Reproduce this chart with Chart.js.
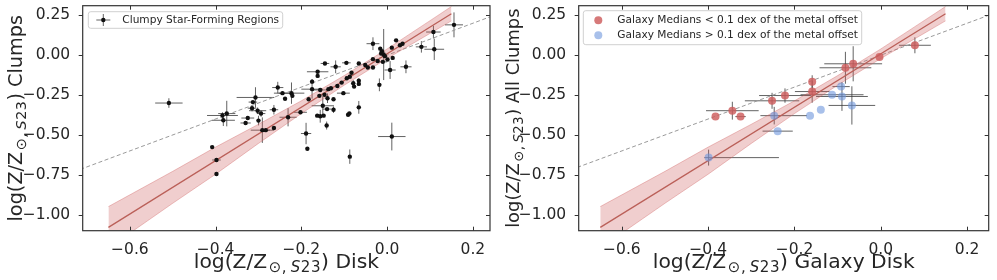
<!DOCTYPE html>
<html>
<head>
<meta charset="utf-8">
<script src="https://cdn.jsdelivr.net/npm/chart.js@4.4.1/dist/chart.umd.min.js"></script>
<style>
  html, body { margin: 0; padding: 0; background: #fff; }
  #wrap { position: relative; width: 997px; height: 280px; overflow: hidden; }
  canvas { position: absolute; top: 0; }
</style>
</head>
<body>
<div id="wrap">
  <canvas id="clumpChart" width="498" height="280" style="left:0"></canvas>
  <canvas id="galaxyChart" width="499" height="280" style="left:498px"></canvas>
</div>
<script>
// ---------- values ----------

// left panel: individual clumpy star-forming regions
const clumpX = [-0.509, -0.408, -0.398, -0.398, -0.384, -0.374, -0.382, -0.307, -0.313, -0.315,
  -0.302, -0.294, -0.325, -0.330, -0.300, -0.291, -0.283, -0.264, -0.264, -0.255,
  -0.244, -0.238, -0.223, -0.221, -0.231, -0.202, -0.145, -0.120, -0.095, -0.066,
  -0.162, -0.162, -0.175, -0.175, -0.156, -0.146, -0.137, -0.131, -0.116, -0.106,
  -0.094, -0.083, -0.087, -0.079, -0.077, -0.066, -0.066, -0.102, -0.183, -0.158,
  -0.139, -0.125, -0.150, -0.140, -0.125, -0.163, -0.156, -0.148, -0.141, -0.091,
  -0.088, -0.066, -0.189, -0.186, -0.051, -0.045, -0.033, -0.018, -0.033, -0.016,
  -0.012, -0.014, -0.008, -0.005, 0.001, -0.010, 0.013, 0.007, -0.033, -0.022,
  0.011, 0.021, 0.030, 0.036, 0.044, 0.080, 0.108, 0.110, 0.156, -0.087,
  0.011];
const clumpY = [-0.300, -0.576, -0.657, -0.745, -0.378, -0.366, -0.408, -0.265, -0.294, -0.332,
  -0.348, -0.366, -0.394, -0.425, -0.410, -0.470, -0.470, -0.342, -0.456, -0.203,
  -0.238, -0.273, -0.238, -0.255, -0.389, -0.358, -0.052, -0.073, -0.048, -0.052,
  -0.104, -0.130, -0.166, -0.213, -0.218, -0.248, -0.213, -0.207, -0.193, -0.172,
  -0.145, -0.110, -0.135, -0.176, -0.197, -0.160, -0.180, -0.238, -0.276, -0.255,
  -0.270, -0.276, -0.317, -0.338, -0.342, -0.379, -0.383, -0.379, -0.441, -0.373,
  -0.366, -0.327, -0.491, -0.586, -0.062, -0.077, -0.077, -0.186, 0.072, 0.041,
  0.025, 0.010, 0.004, -0.006, -0.027, -0.042, -0.017, -0.093, -0.025, -0.037,
  0.047, 0.093, 0.062, 0.072, -0.073, 0.052, 0.145, 0.037, 0.190, -0.636,
  -0.510];
const clumpXErr = [0.032, 0, 0.010, 0, 0.036, 0.020, 0.027, 0.044, 0.010, 0.010,
  0.020, 0.010, 0.015, 0.012, 0, 0.027, 0.010, 0.010, 0, 0.013,
  0.020, 0, 0.030, 0, 0.020, 0.015, 0.010, 0.012, 0.010, 0,
  0.025, 0, 0, 0.025, 0.020, 0, 0, 0, 0, 0,
  0, 0, 0, 0, 0, 0, 0, 0.015, 0, 0,
  0, 0, 0.026, 0.010, 0, 0.005, 0, 0, 0, 0,
  0, 0, 0.012, 0, 0, 0, 0, 0, 0.015, 0,
  0, 0, 0, 0, 0, 0.010, 0, 0.013, 0, 0,
  0, 0, 0, 0, 0.013, 0.013, 0.017, 0.023, 0.021, 0,
  0.032];
const clumpYErr = [0.030, 0, 0, 0, 0.020, 0.080, 0.036, 0.064, 0, 0.020,
  0.020, 0.020, 0, 0.010, 0.030, 0.080, 0, 0.030, 0, 0.036,
  0.010, 0, 0.067, 0, 0.057, 0, 0, 0.040, 0, 0,
  0, 0, 0.015, 0.060, 0, 0, 0, 0, 0, 0,
  0, 0, 0, 0.020, 0, 0.015, 0, 0, 0, 0,
  0.030, 0, 0.060, 0, 0.020, 0, 0.040, 0, 0.025, 0,
  0, 0.040, 0.067, 0, 0, 0, 0, 0.040, 0.040, 0,
  0, 0, 0.160, 0, 0, 0, 0, 0.056, 0, 0,
  0, 0, 0, 0, 0.040, 0.036, 0.040, 0.067, 0.078, 0.045,
  0.087];

// right panel: galaxy medians, split by metal offset
const closeX = [-0.383, -0.344, -0.325, -0.252, -0.222, -0.159, -0.159, -0.082, -0.064, -0.003, 0.079];
const closeY = [-0.385, -0.348, -0.385, -0.286, -0.253, -0.166, -0.228, -0.079, -0.054, -0.011, 0.062];
const closeXErr = [0, 0.061, 0.012, 0.063, 0.060, 0, 0.040, 0.060, 0.067, 0, 0.037];
const closeYErr = [0, 0.056, 0, 0.050, 0.045, 0.040, 0.070, 0.100, 0.110, 0, 0.050];

const farX = [-0.399, -0.239, -0.247, -0.164, -0.139, -0.113, -0.092, -0.090, -0.067];
const farY = [-0.642, -0.476, -0.379, -0.379, -0.342, -0.248, -0.197, -0.259, -0.315];
const farXErr = [[0.010, 0.163], 0.035, [0.032, 0.076], 0, 0, 0.073, 0.020, 0.060, 0.054];
const farYErr = [0.050, 0, 0.055, 0, 0, 0, 0, 0.090, 0.120];

// fitted relation and its band (same in both panels)
const fitX = [-0.65, 0.15];
const fitY = [-1.079, 0.260];
const bandX = [-0.65, -0.5, -0.4, -0.3, -0.2, -0.1, 0.0, 0.1, 0.15];
const bandHi = [-0.949, -0.728, -0.576, -0.433, -0.286, -0.128, 0.039, 0.216, 0.305];
const bandLo = [-1.209, -0.928, -0.746, -0.553, -0.366, -0.188, -0.021, 0.136, 0.215];
const unityX = [-1.0, 1.0];

const xTickVals = [-0.6, -0.4, -0.2, 0.0, 0.2];
const yTickVals = [-1.0, -0.75, -0.5, -0.25, 0.0, 0.25];

// ---------- drawing ----------
const FONT = "'DejaVu Sans', sans-serif";
const INK = '#262626';

const pts = (xs, ys) => xs.map((x, i) => ({ x, y: ys[i] }));
const minus = (v, d) => v.toFixed(d).replace('-', '\u2212');
const spread = e => Array.isArray(e) ? e : [e, e];

// matplotlib-style error bars, positioned through the chart's scales
const errorBars = {
  id: 'errorBars',
  beforeDatasetsDraw(chart) {
    const { ctx, chartArea: a, scales: { x, y } } = chart;
    ctx.save();
    ctx.beginPath();
    ctx.rect(a.left, a.top, a.right - a.left, a.bottom - a.top);
    ctx.clip();
    chart.data.datasets.forEach(ds => {
      if (!ds.xErr) return;
      ctx.strokeStyle = ds.errColor;
      ctx.lineWidth = 1;
      ds.data.forEach((p, i) => {
        const [xl, xh] = spread(ds.xErr[i]);
        const [yl, yh] = spread(ds.yErr[i]);
        const px = x.getPixelForValue(p.x), py = y.getPixelForValue(p.y);
        ctx.beginPath();
        if (xl || xh) {
          ctx.moveTo(x.getPixelForValue(p.x - xl), py);
          ctx.lineTo(x.getPixelForValue(p.x + xh), py);
        }
        if (yl || yh) {
          ctx.moveTo(px, y.getPixelForValue(p.y - yl));
          ctx.lineTo(px, y.getPixelForValue(p.y + yh));
        }
        ctx.stroke();
      });
    });
    ctx.restore();
  }
};

// four spines with ticks
const frame = {
  id: 'frame',
  afterDatasetsDraw(chart) {
    const { ctx, chartArea: a, scales: { x, y } } = chart;
    ctx.save();
    ctx.strokeStyle = '#333';
    ctx.lineWidth = 1.2;
    ctx.strokeRect(a.left, a.top, a.right - a.left, a.bottom - a.top);
    ctx.lineWidth = 1;
    ctx.beginPath();
    x.ticks.forEach(t => {
      const px = Math.round(x.getPixelForValue(t.value)) + 0.5;
      ctx.moveTo(px, a.bottom); ctx.lineTo(px, a.bottom - 4);
      ctx.moveTo(px, a.top); ctx.lineTo(px, a.top + 4);
    });
    y.ticks.forEach(t => {
      const py = Math.round(y.getPixelForValue(t.value)) + 0.5;
      ctx.moveTo(a.left, py); ctx.lineTo(a.left - 4, py);
      ctx.moveTo(a.right, py); ctx.lineTo(a.right - 4, py);
    });
    ctx.stroke();
    ctx.restore();
  }
};

// boxed legend in the upper left corner
const boxLegend = {
  id: 'boxLegend',
  afterDraw(chart, args, opts) {
    const { ctx, chartArea: a } = chart;
    const items = chart.data.datasets.filter(d => d.legendMarker);
    const bx = a.left + opts.left, by = a.top + opts.top;
    ctx.save();
    ctx.beginPath();
    ctx.roundRect(bx, by, opts.width, opts.rowH * items.length + 4, 2.5);
    ctx.fillStyle = 'rgba(255,255,255,0.85)';
    ctx.fill();
    ctx.strokeStyle = '#d0d0d0';
    ctx.lineWidth = 1;
    ctx.stroke();
    ctx.font = '10.6px ' + FONT;
    ctx.textBaseline = 'middle';
    items.forEach((d, i) => {
      const cy = by + 2 + opts.rowH * (i + 0.5);
      const mx = bx + 15;
      if (d.legendMarker === 'errorbar') {
        ctx.strokeStyle = d.errColor;
        ctx.beginPath();
        ctx.moveTo(mx - 7, cy); ctx.lineTo(mx + 7, cy);
        ctx.moveTo(mx, cy - 6); ctx.lineTo(mx, cy + 6);
        ctx.stroke();
        ctx.fillStyle = d.backgroundColor;
        ctx.beginPath(); ctx.arc(mx, cy, 2.2, 0, Math.PI * 2); ctx.fill();
      } else {
        ctx.fillStyle = d.backgroundColor;
        ctx.beginPath(); ctx.arc(mx, cy, 4, 0, Math.PI * 2); ctx.fill();
      }
      ctx.fillStyle = INK;
      ctx.fillText(d.label, bx + 34, cy + 0.5);
    });
    ctx.restore();
  }
};

// axis titles with the Z_{sun,S23} subscript (mathtext-like spacing)
function mathPieces(t, k) {
  const main = 20.3 * k, sub = 15 * k;
  const out = [{ s: t.pre, size: main, dy: 0, gap: 1.5 * k }];
  for (const ch of t.sub) {
    out.push({ s: ch, size: sub, dy: 4 * k, italic: /[A-Za-z]/.test(ch), gap: ch === ',' ? 4 * k : 0.6 * k });
  }
  out.push({ s: t.post, size: main, dy: 0, gap: 0 });
  return out;
}
function drawMath(ctx, t, cx, baseY, k) {
  const pieces = mathPieces(t, k);
  const fontOf = p => (p.italic ? 'italic ' : '') + p.size + 'px ' + FONT;
  let w = 0;
  pieces.forEach(p => { ctx.font = fontOf(p); p.w = ctx.measureText(p.s).width + p.gap; w += p.w; });
  let x = cx - w / 2;
  ctx.textBaseline = 'alphabetic';
  ctx.textAlign = 'left';
  pieces.forEach(p => { ctx.font = fontOf(p); ctx.fillText(p.s, x, baseY + p.dy); x += p.w; });
}
const mathTitles = {
  id: 'mathTitles',
  afterDraw(chart, args, opts) {
    const { ctx, chartArea: a } = chart;
    ctx.save();
    ctx.fillStyle = INK;
    drawMath(ctx, opts.x, (a.left + a.right) / 2, opts.xBase, 1);
    ctx.translate(opts.yBase, (a.top + a.bottom) / 2);
    ctx.rotate(-Math.PI / 2);
    drawMath(ctx, opts.y, 0, 0, opts.yScale);
    ctx.restore();
  }
};

function lineSets() {
  return [
    {
      type: 'line', label: 'fit', data: pts(fitX, fitY),
      borderColor: '#bb6059', borderWidth: 1.3, pointRadius: 0, fill: false, order: 1
    },
    {
      type: 'line', label: 'band hi', data: pts(bandX, bandHi),
      borderColor: 'rgba(205,92,92,0.35)', borderWidth: 1, pointRadius: 0,
      backgroundColor: 'rgba(205,92,92,0.3)', fill: '+1', order: 2
    },
    {
      type: 'line', label: 'band lo', data: pts(bandX, bandLo),
      borderColor: 'rgba(205,92,92,0.35)', borderWidth: 1, pointRadius: 0, fill: false, order: 2
    },
    {
      type: 'line', label: '1:1', data: pts(unityX, unityX),
      borderColor: '#9a9a9a', borderWidth: 1, borderDash: [4, 2.5], pointRadius: 0, fill: false, order: 3
    }
  ];
}

function noPad(s) {
  s.paddingTop = 0; s.paddingBottom = 0; s.paddingLeft = 0; s.paddingRight = 0;
}

function axes(xMin, xMax, yWidth) {
  const tickFont = { family: FONT, size: 15.5 };
  return {
    x: {
      type: 'linear', min: xMin, max: xMax,
      grid: { display: false }, border: { display: false },
      afterBuildTicks: s => { s.ticks = xTickVals.map(v => ({ value: v })); },
      afterFit: s => { s.height = 49.3; noPad(s); },
      ticks: { font: tickFont, color: INK, padding: 2, maxRotation: 0, callback: v => minus(v, 1) }
    },
    y: {
      type: 'linear', min: -1.1, max: 0.31,
      grid: { display: false }, border: { display: false },
      afterBuildTicks: s => { s.ticks = yTickVals.map(v => ({ value: v })); },
      afterFit: s => { s.width = yWidth; noPad(s); },
      ticks: { font: tickFont, color: INK, padding: 4.5, callback: v => minus(v, 2) }
    }
  };
}

function makeChart(id, datasets, opts) {
  return new Chart(document.getElementById(id), {
    type: 'scatter',
    data: { datasets },
    options: {
      responsive: false,
      animation: false,
      devicePixelRatio: 1,
      layout: { padding: { top: 5.7, right: opts.padRight, left: 0, bottom: 0 } },
      scales: axes(opts.xMin, opts.xMax, opts.yWidth),
      plugins: {
        legend: { display: false },
        tooltip: { enabled: false },
        boxLegend: opts.legend,
        mathTitles: opts.titles
      }
    },
    plugins: [errorBars, frame, boxLegend, mathTitles]
  });
}

makeChart('clumpChart', [
  {
    label: 'Clumpy Star-Forming Regions', data: pts(clumpX, clumpY),
    xErr: clumpXErr, yErr: clumpYErr, errColor: 'rgba(45,45,45,0.75)',
    backgroundColor: '#111', pointRadius: 2.2, borderWidth: 0,
    legendMarker: 'errorbar', order: 0
  },
  ...lineSets()
], {
  xMin: -0.71, xMax: 0.24, yWidth: 82.7, padRight: 8,
  legend: { left: 5.6, top: 6, width: 194.4, rowH: 12.6 },
  titles: {
    x: { pre: 'log(Z/Z', sub: '\u2299,S23', post: ') Disk' },
    y: { pre: 'log(Z/Z', sub: '\u2299,S23', post: ') Clumps' },
    xBase: 268, yBase: 22, yScale: 0.95
  }
});

makeChart('galaxyChart', [
  {
    label: 'Galaxy Medians < 0.1 dex of the metal offset', data: pts(closeX, closeY),
    xErr: closeXErr, yErr: closeYErr, errColor: 'rgba(60,60,60,0.8)',
    backgroundColor: 'rgba(205,92,92,0.82)', pointRadius: 4, borderWidth: 0,
    legendMarker: 'dot', order: 0
  },
  {
    label: 'Galaxy Medians > 0.1 dex of the metal offset', data: pts(farX, farY),
    xErr: farXErr, yErr: farYErr, errColor: 'rgba(60,60,60,0.8)',
    backgroundColor: 'rgba(110,150,220,0.6)', pointRadius: 4, borderWidth: 0,
    legendMarker: 'dot', order: 0
  },
  ...lineSets()
], {
  xMin: -0.70, xMax: 0.25, yWidth: 80.7, padRight: 8.3,
  legend: { left: 4.6, top: 5, width: 278.4, rowH: 15 },
  titles: {
    x: { pre: 'log(Z/Z', sub: '\u2299,S23', post: ') Galaxy Disk' },
    y: { pre: 'log(Z/Z', sub: '\u2299,S23', post: ') All Clumps' },
    xBase: 268, yBase: 21, yScale: 0.88
  }
});
</script>
</body>
</html>
